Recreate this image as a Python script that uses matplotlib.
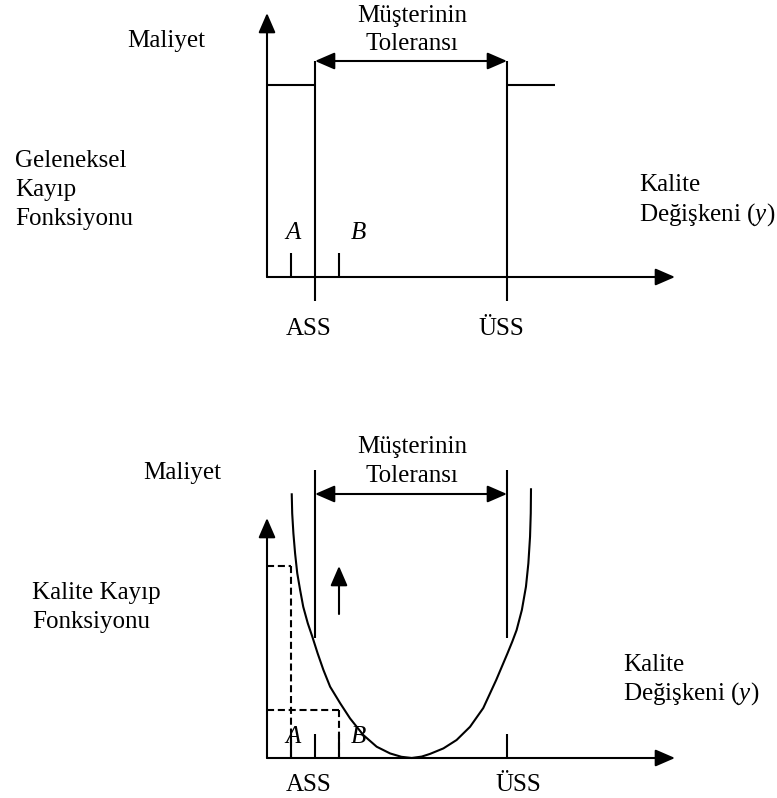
"""
Geleneksel kayıp fonksiyonu ve kalite kayıp fonksiyonu (Taguchi) diyagramları
"""

import matplotlib.pyplot as plt
from matplotlib.patches import FancyArrowPatch

plt.rcParams['font.family'] = 'Liberation Serif'
plt.rcParams['mathtext.fontset'] = 'custom'
plt.rcParams['mathtext.rm'] = 'Liberation Serif'
plt.rcParams['mathtext.it'] = 'Liberation Serif:italic'

# --- veriler (kalite değişkeni birimleri) ---
spec_limits = [2, 10]            # ASS, ÜSS
spec_names = ['ASS', 'ÜSS']
point_pos = [1, 3]               # A, B
point_names = ['A', 'B']
step_loss = 8                    # geleneksel kayıp seviyesi
step_right_end = 12
ab_loss = [8, 2]                 # kalite kaybı A ve B noktalarında
axis_x_end = 17
axis_y_end_top = 11
axis_y_end_bottom = 10

# kalite kayıp eğrisi (resimden okunan noktalar)
curve_x = [1.03, 1.05, 1.10, 1.17, 1.26, 1.38, 1.51, 1.70, 1.89, 2.11, 2.35,
           2.63, 3.05, 3.46, 4.01, 4.57, 5.13, 5.60, 6.03, 6.45, 6.79, 7.35,
           7.90, 8.46, 9.01, 9.55, 10.02, 10.22, 10.40, 10.62, 10.79, 10.89,
           10.96, 10.99, 11.00]
curve_y = [11.03, 10.19, 9.36, 8.53, 7.70, 7.00, 6.30, 5.61, 5.05, 4.36, 3.67,
           2.97, 2.28, 1.65, 0.96, 0.47, 0.19, 0.05, 0.00, 0.06, 0.17, 0.40,
           0.75, 1.30, 2.08, 3.25, 4.36, 4.85, 5.33, 6.17, 7.14, 8.11,
           9.22, 10.20, 11.24]

PX = 24          # piksel / birim
W, H = 777, 798
ORIGIN_X = 267
LW = 1.5
FS = 18


def make_panel(fig, origin_y):
    ax = fig.add_axes([0, 0, 1, 1])
    ax.set_xlim(-ORIGIN_X / PX, (W - ORIGIN_X) / PX)
    ax.set_ylim(-(H - origin_y) / PX, origin_y / PX)
    ax.axis('off')
    ax.patch.set_alpha(0)
    return ax


def arrow(ax, p0, p1, style='-|>'):
    a = FancyArrowPatch(p0, p1,
                        arrowstyle=f'{style},head_length=12,head_width=5.2',
                        mutation_scale=1, lw=LW, color='black',
                        shrinkA=0, shrinkB=0)
    ax.add_patch(a)


def line(ax, xs, ys, **kw):
    kw.setdefault('ls', '-')
    ax.plot(xs, ys, color='black', lw=LW, solid_capstyle='butt',
            dash_capstyle='butt', solid_joinstyle='round', **kw)


def txt(ax, x, y, s, ha='left', **kw):
    ax.text(x, y, s, ha=ha, va='baseline', fontsize=FS, **kw)


fig = plt.figure(figsize=(7.77, 7.98), dpi=100)

# ================= Üst: Geleneksel kayıp fonksiyonu =================
ax = make_panel(fig, 277)

arrow(ax, (0, 0), (0, axis_y_end_top))
arrow(ax, (0, 0), (axis_x_end, 0))

for xs in spec_limits:
    line(ax, [xs, xs], [-1, 9])
arrow(ax, (spec_limits[0], 9), (spec_limits[1], 9), style='<|-|>')

line(ax, [0, spec_limits[0]], [step_loss, step_loss])
line(ax, [spec_limits[1], step_right_end], [step_loss, step_loss])

for xp in point_pos:
    line(ax, [xp, xp], [0, 1])

txt(ax, -5.83, 9.58, 'Maliyet')
txt(ax, 6.04, 10.63, 'Müşterinin', ha='center')
txt(ax, 6.04, 9.46, 'Toleransı', ha='center')
for yy, s in zip([4.58, 3.37, 2.17], ['Geleneksel', 'Kayıp', 'Fonksiyonu']):
    txt(ax, -10.5, yy, s)
for xp, nm, dx in zip(point_pos, point_names, [0.08, 0.79]):
    txt(ax, xp + dx, 1.58, nm, ha='center', style='italic')
for xs, nm, dx in zip(spec_limits, spec_names, [-0.25, -0.25]):
    txt(ax, xs + dx, -2.42, nm, ha='center')
txt(ax, 15.5, 3.58, 'Kalite')
txt(ax, 15.5, 2.37, 'Değişkeni ($y$)')

# ================= Alt: Kalite kayıp fonksiyonu =================
ax = make_panel(fig, 758)

arrow(ax, (0, 0), (0, axis_y_end_bottom))
arrow(ax, (0, 0), (axis_x_end, 0))

for xs in spec_limits:
    line(ax, [xs, xs], [5, 12])
    line(ax, [xs, xs], [0, 1])
arrow(ax, (spec_limits[0], 11), (spec_limits[1], 11), style='<|-|>')

for xp in point_pos:
    line(ax, [xp, xp], [0, 1])

line(ax, curve_x, curve_y)

for xp, lv in zip(point_pos, ab_loss):
    line(ax, [0, xp], [lv, lv], ls=(0, (3.4, 1.8)))
    line(ax, [xp, xp], [lv, 0], ls=(0, (3.4, 1.8)))

arrow(ax, (point_pos[1], 6), (point_pos[1], 8))

txt(ax, -5.17, 11.62, 'Maliyet')
txt(ax, 6.04, 12.71, 'Müşterinin', ha='center')
txt(ax, 6.04, 11.5, 'Toleransı', ha='center')
txt(ax, -9.79, 6.62, 'Kalite Kayıp')
txt(ax, -9.79, 5.42, 'Fonksiyonu')
for xp, nm, dx in zip(point_pos, point_names, [0.08, 0.79]):
    txt(ax, xp + dx, 0.62, nm, ha='center', style='italic')
for xs, nm, dx in zip(spec_limits, spec_names, [-0.25, 0.46]):
    txt(ax, xs + dx, -1.37, nm, ha='center')
txt(ax, 14.83, 3.62, 'Kalite')
txt(ax, 14.83, 2.42, 'Değişkeni ($y$)')

plt.savefig('out.png', dpi=100)
plt.close()
